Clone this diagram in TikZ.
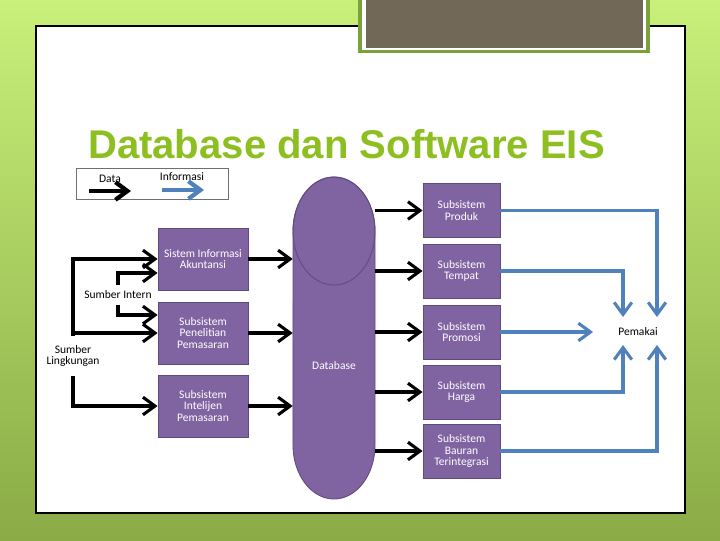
\documentclass[tikz,border=0pt]{standalone}
\usepackage{fontspec}
\setmainfont{Carlito}
\newfontfamily\titlefont{Liberation Sans}
\usepackage{xcolor}
\usepackage{tikz}
\usetikzlibrary{arrows.meta}
\definecolor{bgtop}{HTML}{C8F07A}
\definecolor{bgbot}{HTML}{8AAB46}
\definecolor{frame}{HTML}{7BA23A}
\definecolor{lid}{HTML}{726857}
\definecolor{ttlgreen}{HTML}{8CBF1F}
\definecolor{boxfill}{HTML}{8064A2}
\definecolor{boxline}{HTML}{5F4A7D}
\definecolor{infoblue}{HTML}{4F81BD}
\definecolor{legline}{HTML}{6F6F6F}
\newcommand{\lblfont}{\fontsize{8.2}{7.9}\selectfont}
\tikzset{
  box/.style={draw=boxline, fill=boxfill, line width=0.6pt, text=white, align=center, font=\lblfont, minimum width=2.25cm, minimum height=1.55cm, inner sep=1pt},
  boxr/.style={box, minimum width=1.925cm, minimum height=1.35cm},
  data/.style={draw=black, line width=2.2pt, -{Straight Barb[length=3mm,width=4.4mm]}},
  info/.style={draw=infoblue, line width=2.2pt, -{Straight Barb[length=3mm,width=4.4mm]}},
  lab/.style={text=black, font=\lblfont, align=center},
}

\begin{document}
\begin{tikzpicture}[x=0.025cm, y=-0.025cm]
  \useasboundingbox (0,0) rectangle (720,540);
  % slide
  \shade[top color=bgtop, bottom color=bgbot] (0,0) rectangle (720,540);
  \filldraw[fill=white, draw=black, line width=0.9pt] (36,26) rectangle (685,513);
  \fill[frame] (358,-2) rectangle (650,53);
  \fill[white] (362,-2) rectangle (646,50);
  \fill[lid] (366,-2) rectangle (643,48);
  \node[anchor=base, text=ttlgreen, font=\titlefont\fontsize{28.5}{30}\selectfont\bfseries] (ttl) at (346.5,158) {Database dan Software EIS};

  % legend
  \node[draw=legline, line width=0.6pt, minimum width=3.8cm, minimum height=0.775cm] (leg) at (152,183.5) {};
  \node[lab] (ldata) at (110,179) {Data};
  \node[lab] (linfo) at (182,177) {Informasi};
  \coordinate (d1) at (89,191); \coordinate (d2) at (131,191);
  \coordinate (i1) at (162,190); \coordinate (i2) at (204,190);
  \draw[data, line width=3pt] (d1) -- (d2);
  \draw[info, line width=3pt] (i1) -- (i2);

  % database
  \filldraw[fill=boxfill, draw=boxline, line width=0.6pt] (293,231) arc[start angle=180, end angle=0, x radius=1.025cm, y radius=1.35cm] -- (375,445) arc[start angle=0, end angle=-180, x radius=1.025cm, y radius=1.35cm] -- cycle;
  \draw[boxline, line width=0.6pt] (334,231) ellipse[x radius=1.025cm, y radius=1.35cm];
  \node[minimum width=2.05cm, minimum height=8.05cm, inner sep=0pt] (db) at (334,338) {};
  \node[text=white, font=\lblfont] (dbl) at (334,366) {Database};

  % left subsystems
  \node[box] (sia) at (203,259) {Sistem Informasi\\Akuntansi};
  \node[box] (pen) at (203,333) {Subsistem\\Penelitian\\Pemasaran};
  \node[box] (intel) at (203,406) {Subsistem\\Intelijen\\Pemasaran};

  % right subsystems
  \node[boxr] (produk) at (461.5,210.5) {Subsistem\\Produk};
  \node[boxr] (tempat) at (461.5,271) {Subsistem\\Tempat};
  \node[boxr] (promosi) at (461.5,332) {Subsistem\\Promosi};
  \node[boxr] (harga) at (461.5,392) {Subsistem\\Harga};
  \node[boxr] (bauran) at (461.5,451) {Subsistem\\Bauran\\Terintegrasi};

  % sources
  \node[lab, inner ysep=1.3mm] (intern) at (118,295) {Sumber Intern};
  \node[lab, inner ysep=2.2mm] (lingk) at (73,356) {Sumber\\Lingkungan};
  \node[lab] (pemakai) at (638,332) {Pemakai};

  \draw[data] (lingk.north) |- (sia.west);
  \draw[data] (lingk.north |- pen.west) -- (pen.west);
  \draw[data] (lingk.south) |- (intel.west);
  \draw[data] (intern.north) |- ([yshift=-3.5mm]sia.west);
  \draw[data] (intern.south) |- ([yshift=4.5mm]pen.west);

  % into and out of the database
  \draw[data] (sia.east) -- (sia.east -| db.west);
  \draw[data] (pen.east) -- (pen.east -| db.west);
  \draw[data] (intel.east) -- (intel.east -| db.west);
  \draw[data] (db.east |- produk.west) -- (produk.west);
  \draw[data] (db.east |- tempat.west) -- (tempat.west);
  \draw[data] (db.east |- promosi.west) -- (promosi.west);
  \draw[data] (db.east |- harga.west) -- (harga.west);
  \draw[data] (db.east |- bauran.west) -- (bauran.west);

  % to the user
  \coordinate (pT1) at (623,317); \coordinate (pT2) at (657,317);
  \coordinate (pB1) at (623,345); \coordinate (pB2) at (657,345);
  \coordinate (pL) at (593,332);
  \draw[info] (produk.east) -| (pT2);
  \draw[info] (tempat.east) -| (pT1);
  \draw[info] (promosi.east) -- (pL);
  \draw[info] (harga.east) -| (pB1);
  \draw[info] (bauran.east) -| (pB2);
\end{tikzpicture}
\end{document}
